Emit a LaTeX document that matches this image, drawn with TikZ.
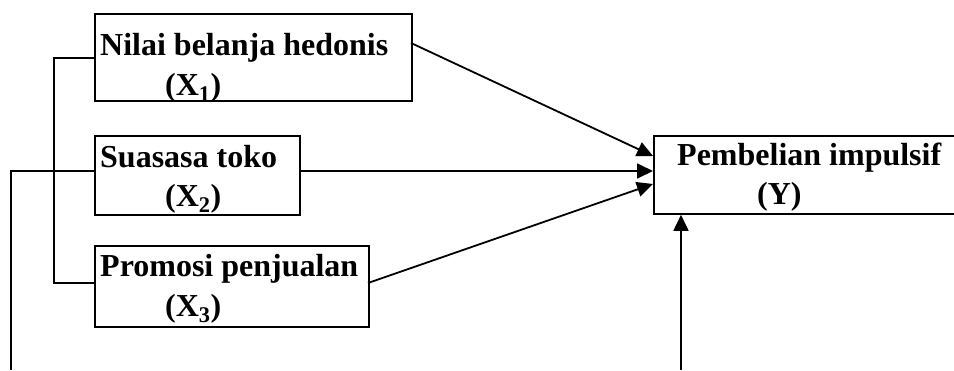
\documentclass[tikz,border=0pt]{standalone}
\usepackage{fontspec}
\setmainfont{Liberation Serif}
\usetikzlibrary{arrows.meta}
\begin{document}
\begin{tikzpicture}[x=1pt,y=-1pt,
  box/.style={draw,line width=1.8pt,inner sep=0pt,anchor=north west},
  lbl/.style={anchor=base west,inner sep=0pt,font=\fontsize{32}{40}\selectfont\bfseries},
  link/.style={line width=1.8pt},
  arr/.style={line width=1.8pt,-{Triangle[length=16pt,width=15pt]}}]
\useasboundingbox (0,0) rectangle (954,370);
% boxes
\node[box,minimum width=317pt,minimum height=87pt] (x1) at (94,13) {};
\node[box,minimum width=205pt,minimum height=79pt] (x2) at (94,135) {};
\node[box,minimum width=274pt,minimum height=81pt] (x3) at (94,245) {};
\node[box,minimum width=320pt,minimum height=78pt] (y) at (653,135) {};
% labels
\node[lbl] (t1a) at (100,55) {Nilai belanja hedonis};
\node[lbl] (t1b) at (165,95) {(X\textsubscript{1})};
\node[lbl] (t2a) at (100,167) {Suasasa toko};
\node[lbl] (t2b) at (165,206) {(X\textsubscript{2})};
\node[lbl] (t3a) at (100,276) {Promosi penjualan};
\node[lbl] (t3b) at (165,316) {(X\textsubscript{3})};
\node[lbl] (tya) at (677,165) {Pembelian impulsif};
\node[lbl] (tyb) at (757,204) {(Y)};
% correlation brackets on the left
\coordinate (b1) at (54,58);
\coordinate (b3) at (54,283);
\draw[link] (x1.west |- b1) -- (b1) -- (b3) -- (x3.west |- b3);
\coordinate (c1) at (11,171);
\coordinate (c2) at (11,370);
\draw[link] (x2.west |- c1) -- (c1) -- (c2);
% paths to the dependent variable
\coordinate (s1) at (411,43);
\coordinate (e1) at (653,156);
\coordinate (s2) at (299,171);
\coordinate (e2) at (653,171);
\coordinate (s3) at (368,283);
\coordinate (e3) at (653,184);
\draw[arr] (s1) -- (e1);
\draw[arr] (s2) -- (e2);
\draw[arr] (s3) -- (e3);
\coordinate (r0) at (681,370);
\draw[arr] (r0) -- (r0 |- y.south);
\end{tikzpicture}
\end{document}
